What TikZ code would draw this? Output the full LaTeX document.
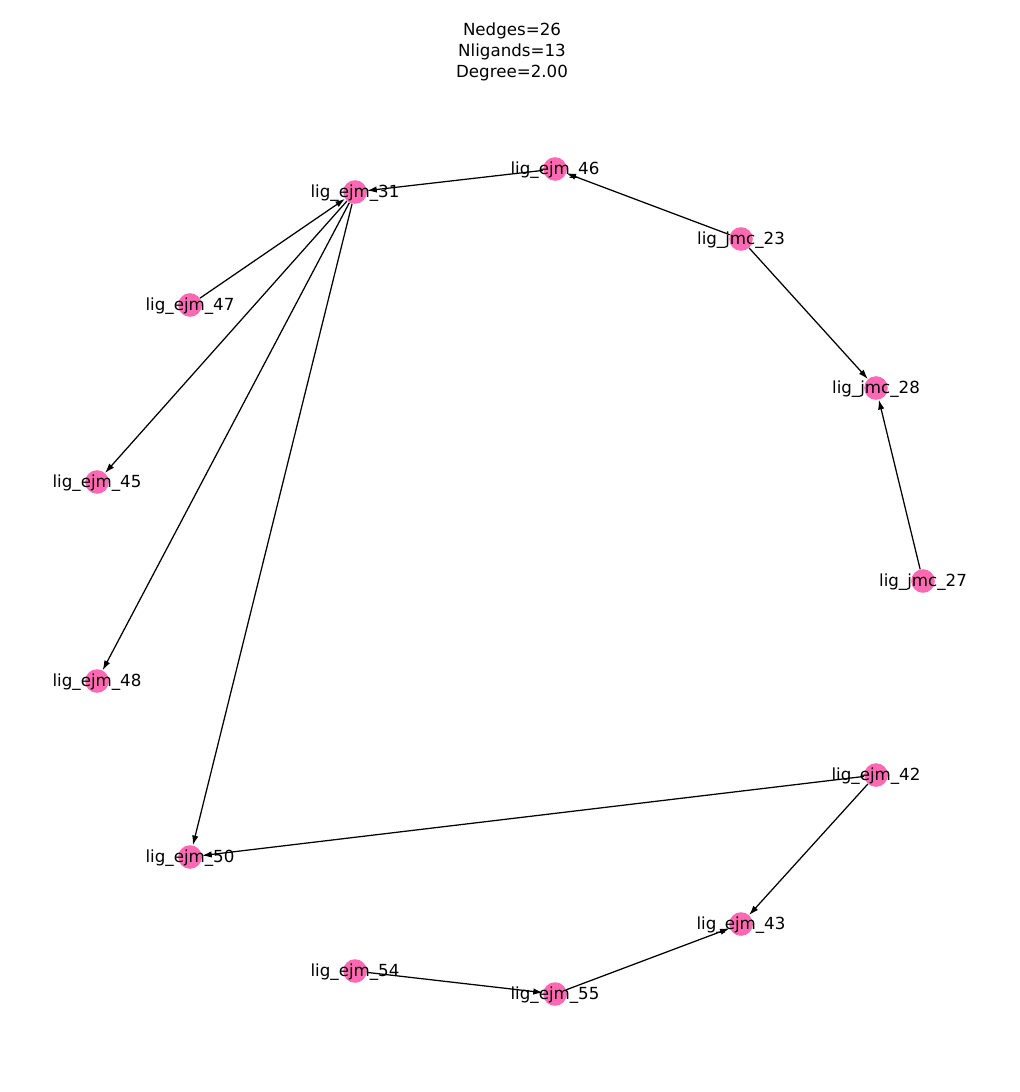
\documentclass[tikz,border=0pt]{standalone}
\usepackage{fontspec}
\setmainfont{DejaVu Sans}
\usepackage{xcolor}
\usetikzlibrary{arrows.meta}
\definecolor{ligpink}{RGB}{255, 105, 180}

\tikzset{
  lig/.style={circle, fill=ligpink, inner sep=0pt, minimum size=17pt},
  ligtext/.style={font=\fontsize{12pt}{14pt}\selectfont, inner sep=0pt, yshift=-0.6pt},
  bond/.style={line width=0.9pt, -{Latex[length=7pt,width=4.6pt]}}
}

\begin{document}
\begin{tikzpicture}[x=0.72pt, y=-0.72pt]
  \useasboundingbox (0,0) rectangle (1019,1092);

  \node[ligtext, align=center] (title) at (512,51) {Nedges=26\\[1pt]Nligands=13\\[1pt]Degree=2.00};

%ligands:
  \node[lig] (e46) at (555,169) {};
  \node[lig] (e31) at (355,192) {};
  \node[lig] (j23) at (741,239) {};
  \node[lig] (e47) at (190,305) {};
  \node[lig] (j28) at (876,388) {};
  \node[lig] (e45) at (97,482) {};
  \node[lig] (j27) at (923,581) {};
  \node[lig] (e48) at (97,681) {};
  \node[lig] (e42) at (876,775) {};
  \node[lig] (e50) at (190,857) {};
  \node[lig] (e43) at (741,924) {};
  \node[lig] (e54) at (355,971) {};
  \node[lig] (e55) at (555,994) {};
%%%%%%

  \draw[bond] (e46) -- (e31);
  \draw[bond] (j23) -- (e46);
  \draw[bond] (j23) -- (j28);
  \draw[bond] (e47) -- (e31);
  \draw[bond] (e31) -- (e45);
  \draw[bond] (e31) -- (e48);
  \draw[bond] (e31) -- (e50);
  \draw[bond] (j27) -- (j28);
  \draw[bond] (e42) -- (e50);
  \draw[bond] (e42) -- (e43);
  \draw[bond] (e54) -- (e55);
  \draw[bond] (e55) -- (e43);

  \node[ligtext] (t46) at (e46) {lig\_ejm\_46};
  \node[ligtext] (t31) at (e31) {lig\_ejm\_31};
  \node[ligtext] (t23) at (j23) {lig\_jmc\_23};
  \node[ligtext] (t47) at (e47) {lig\_ejm\_47};
  \node[ligtext] (t28) at (j28) {lig\_jmc\_28};
  \node[ligtext] (t45) at (e45) {lig\_ejm\_45};
  \node[ligtext] (t27) at (j27) {lig\_jmc\_27};
  \node[ligtext] (t48) at (e48) {lig\_ejm\_48};
  \node[ligtext] (t42) at (e42) {lig\_ejm\_42};
  \node[ligtext] (t50) at (e50) {lig\_ejm\_50};
  \node[ligtext] (t43) at (e43) {lig\_ejm\_43};
  \node[ligtext] (t54) at (e54) {lig\_ejm\_54};
  \node[ligtext] (t55) at (e55) {lig\_ejm\_55};
\end{tikzpicture}
\end{document}
